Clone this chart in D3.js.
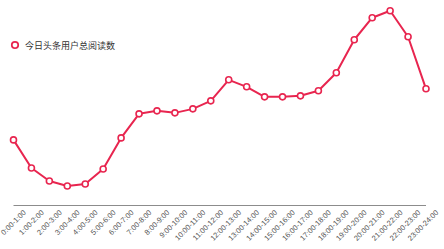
<!DOCTYPE html>
<html>
<head>
<meta charset="utf-8">
<script src="https://cdn.jsdelivr.net/npm/d3@7"></script>
<style>
  html, body { margin: 0; padding: 0; background: #fff; }
  svg { display: block; }
</style>
</head>
<body>
<div id="chart"></div>
<script>
// hourly slots
const hours = [
  '0:00-1:00', '1:00-2:00', '2:00-3:00', '3:00-4:00', '4:00-5:00', '5:00-6:00',
  '6:00-7:00', '7:00-8:00', '8:00-9:00', '9:00-10:00', '10:00-11:00', '11:00-12:00',
  '12:00-13:00', '13:00-14:00', '14:00-15:00', '15:00-16:00', '16:00-17:00', '17:00-18:00',
  '18:00-19:00', '19:00-20:00', '20:00-21:00', '21:00-22:00', '22:00-23:00', '23:00-24:00'
];
const seriesName = '今日头条用户总阅读数';
const reads = [65, 37, 24, 19, 21, 36, 67, 91, 94, 92, 96, 104,
               125, 118, 108, 108, 109, 114, 132, 165, 187, 194, 168, 116];

const width = 444, height = 249;
const margin = { top: 10.7, right: 18, bottom: 44, left: 13.5 };
const color = '#e8254f';

const svg = d3.select('#chart')
  .append('svg')
  .attr('width', width)
  .attr('height', height);

const x = d3.scalePoint()
  .domain(hours)
  .range([margin.left, width - margin.right]);

const y = d3.scaleLinear()
  .domain([0, d3.max(reads)])
  .range([height - margin.bottom, margin.top]);

// x axis
const axisY = height - margin.bottom;
const xAxis = svg.append('g')
  .attr('transform', `translate(0,${axisY})`)
  .call(d3.axisBottom(x).tickSize(0).tickPadding(0));

xAxis.select('.domain')
  .attr('stroke', '#8c8c8c')
  .attr('d', `M${margin.left},0.5H${width - margin.right}`);

xAxis.selectAll('text')
  .attr('font-family', '"Liberation Sans", Arial, sans-serif')
  .attr('font-size', 7.5)
  .attr('fill', '#555')
  .attr('text-anchor', 'end')
  .attr('dy', null)
  .attr('y', 0)
  .attr('transform', 'translate(12.5,8) rotate(-45)');

// line
const line = d3.line()
  .x((d, i) => x(hours[i]))
  .y(d => y(d));

svg.append('path')
  .datum(reads)
  .attr('d', line)
  .attr('fill', 'none')
  .attr('stroke', color)
  .attr('stroke-width', 2)
  .attr('stroke-linejoin', 'round');

svg.append('g')
  .selectAll('circle')
  .data(reads)
  .join('circle')
  .attr('cx', (d, i) => x(hours[i]))
  .attr('cy', d => y(d))
  .attr('r', 3)
  .attr('fill', '#fff')
  .attr('stroke', color)
  .attr('stroke-width', 1.6);

// legend
const legend = svg.append('g').attr('transform', 'translate(15,45)');
legend.append('circle')
  .attr('r', 3.2)
  .attr('fill', '#fff')
  .attr('stroke', color)
  .attr('stroke-width', 1.8);
legend.append('text')
  .attr('x', 10)
  .attr('dominant-baseline', 'central')
  .attr('font-family', '"Noto Sans CJK SC", sans-serif')
  .attr('font-size', 9)
  .attr('fill', '#333')
  .text(seriesName);
</script>
</body>
</html>
